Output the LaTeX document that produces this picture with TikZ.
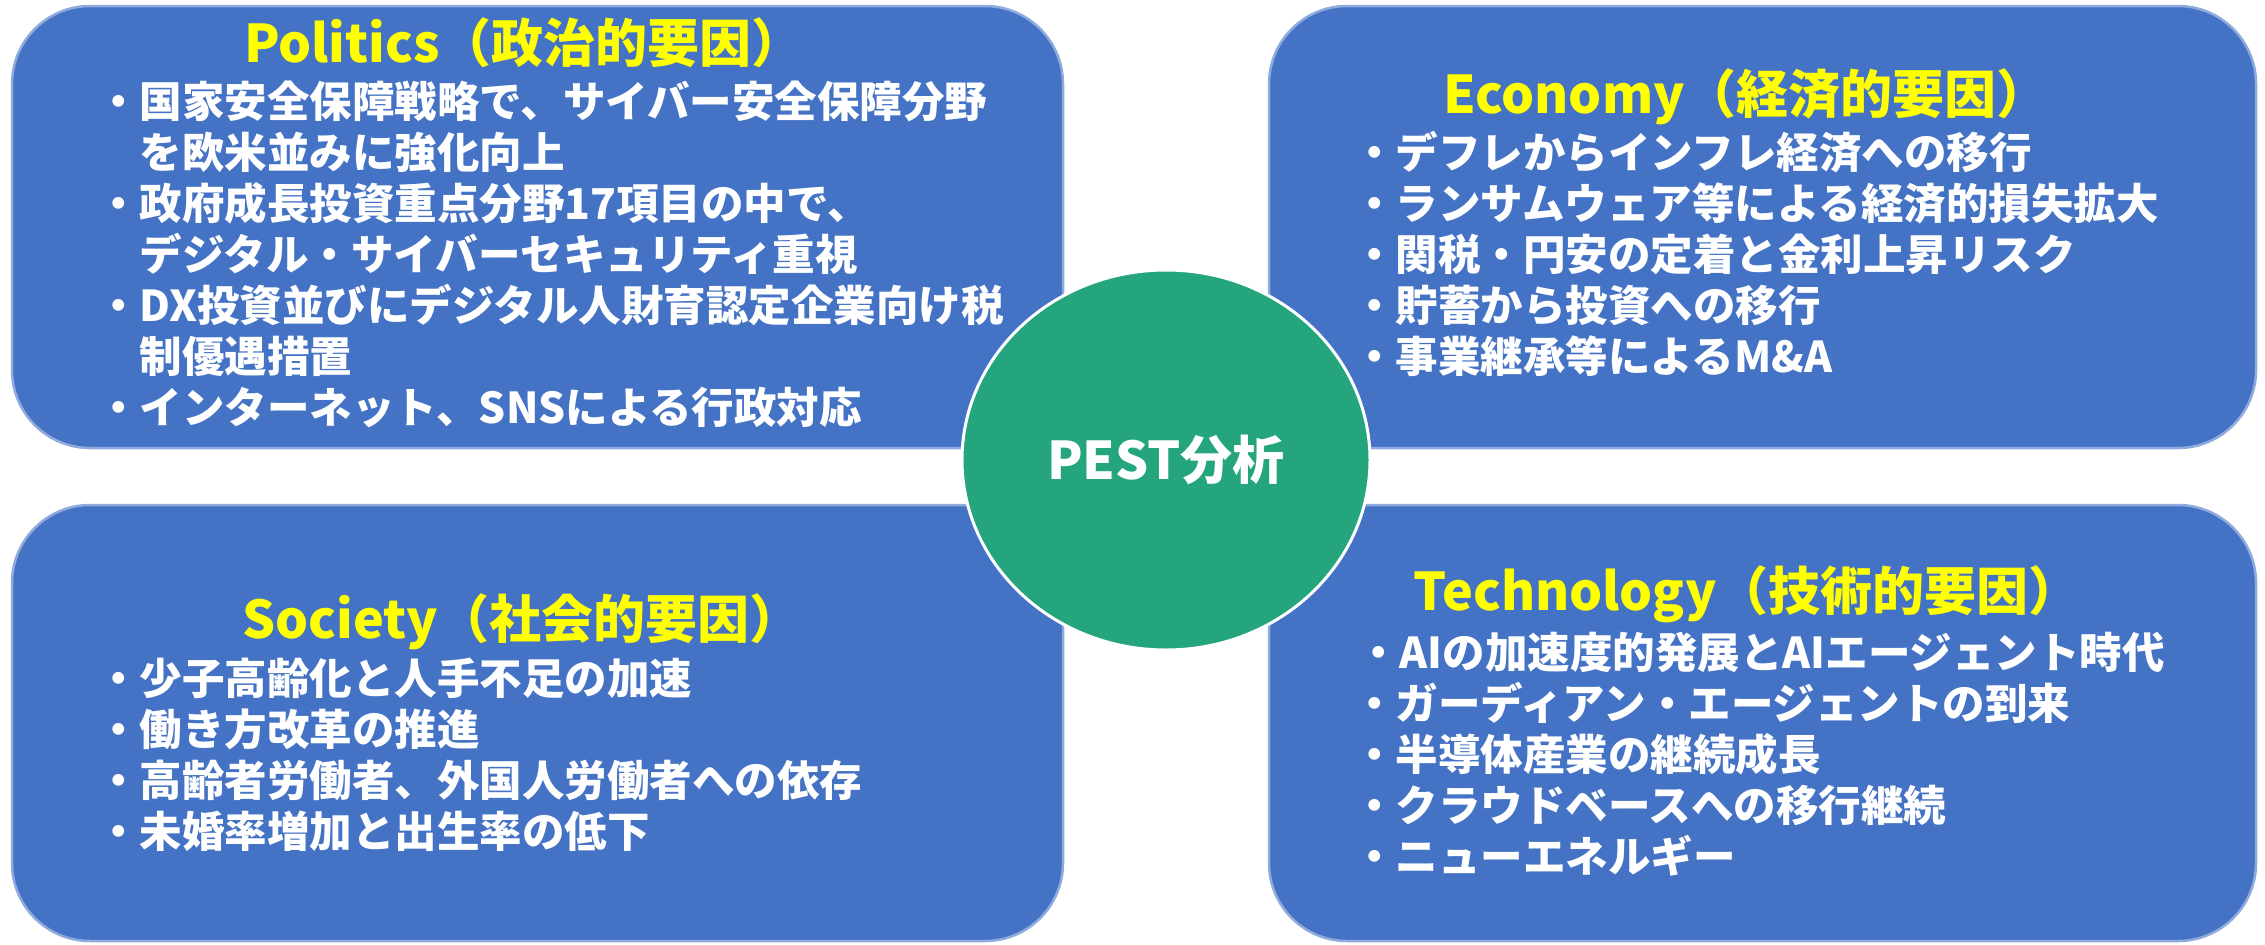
\documentclass[tikz,border=0pt]{standalone}
\usepackage{fontspec}
\setmainfont{Noto Sans CJK JP}
\usetikzlibrary{shapes.geometric}
\definecolor{boxblue}{RGB}{68,114,196}
\definecolor{boxline}{RGB}{143,170,220}
\definecolor{pestgreen}{RGB}{36,165,125}
\definecolor{ttlyellow}{RGB}{255,255,0}
\begin{document}
\begin{tikzpicture}[x=1pt,y=-1pt,
  box/.style={draw=boxline, line width=2.5pt, fill=boxblue, rounded corners=78pt, inner sep=0pt},
  ttl/.style={text=ttlyellow, font=\fontsize{52}{60}\selectfont\bfseries, inner sep=0pt, anchor=base},
  itm/.style={text=white, font=\fontsize{42.5}{51}\selectfont\bfseries, inner sep=0pt, anchor=base west},
  hub/.style={ellipse, draw=white, line width=3pt, fill=pestgreen, inner sep=0pt, text=white, font=\fontsize{52}{60}\selectfont\bfseries}
]
\useasboundingbox (0,0) rectangle (2265,945);
% boxes
\node[box, minimum width=1051pt, minimum height=442pt] (P) at (537.5,227) {};
\node[box, minimum width=987pt, minimum height=442pt] (E) at (1762.5,227) {};
\node[box, minimum width=1051pt, minimum height=436pt] (S) at (537.5,723) {};
\node[box, minimum width=987pt, minimum height=436pt] (T) at (1762.5,723) {};
% hub
\node[hub, minimum width=408pt, minimum height=380pt] (C) at (1166,460) {PEST分析};
% Politics
\node[ttl] (Pt) at (524,62) {Politics（政治的要因）};
\node[itm] (P1) at (97,117) {・国家安全保障戦略で、サイバー安全保障分野};
\node[itm] (P2) at (97,168) {　を欧米並みに強化向上};
\node[itm] (P3) at (97,219) {・政府成長投資重点分野17項目の中で、};
\node[itm] (P4) at (97,270) {　デジタル・サイバーセキュリティ重視};
\node[itm] (P5) at (97,321) {・DX投資並びにデジタル人財育認定企業向け税};
\node[itm] (P6) at (97,372) {　制優遇措置};
\node[itm] (P7) at (97,423) {・インターネット、SNSによる行政対応};
% Economy
\node[ttl] (Et) at (1746,113) {Economy（経済的要因）};
\node[itm] (E1) at (1353,168) {・デフレからインフレ経済への移行};
\node[itm] (E2) at (1353,219) {・ランサムウェア等による経済的損失拡大};
\node[itm] (E3) at (1353,270) {・関税・円安の定着と金利上昇リスク};
\node[itm] (E4) at (1353,321) {・貯蓄から投資への移行};
\node[itm] (E5) at (1353,372) {・事業継承等によるM\&A};
% Society
\node[ttl] (St) at (522,638) {Society（社会的要因）};
\node[itm] (S1) at (97,694) {・少子高齢化と人手不足の加速};
\node[itm] (S2) at (97,745) {・働き方改革の推進};
\node[itm] (S3) at (97,796) {・高齢者労働者、外国人労働者への依存};
\node[itm] (S4) at (97,847) {・未婚率増加と出生率の低下};
% Technology
\node[ttl] (Tt) at (1747,610) {Technology（技術的要因）};
\node[itm] (T1) at (1357,668) {・AIの加速度的発展とAIエージェント時代};
\node[itm] (T2) at (1353,719) {・ガーディアン・エージェントの到来};
\node[itm] (T3) at (1353,770) {・半導体産業の継続成長};
\node[itm] (T4) at (1353,821) {・クラウドベースへの移行継続};
\node[itm] (T5) at (1353,872) {・ニューエネルギー};
\end{tikzpicture}
\end{document}
